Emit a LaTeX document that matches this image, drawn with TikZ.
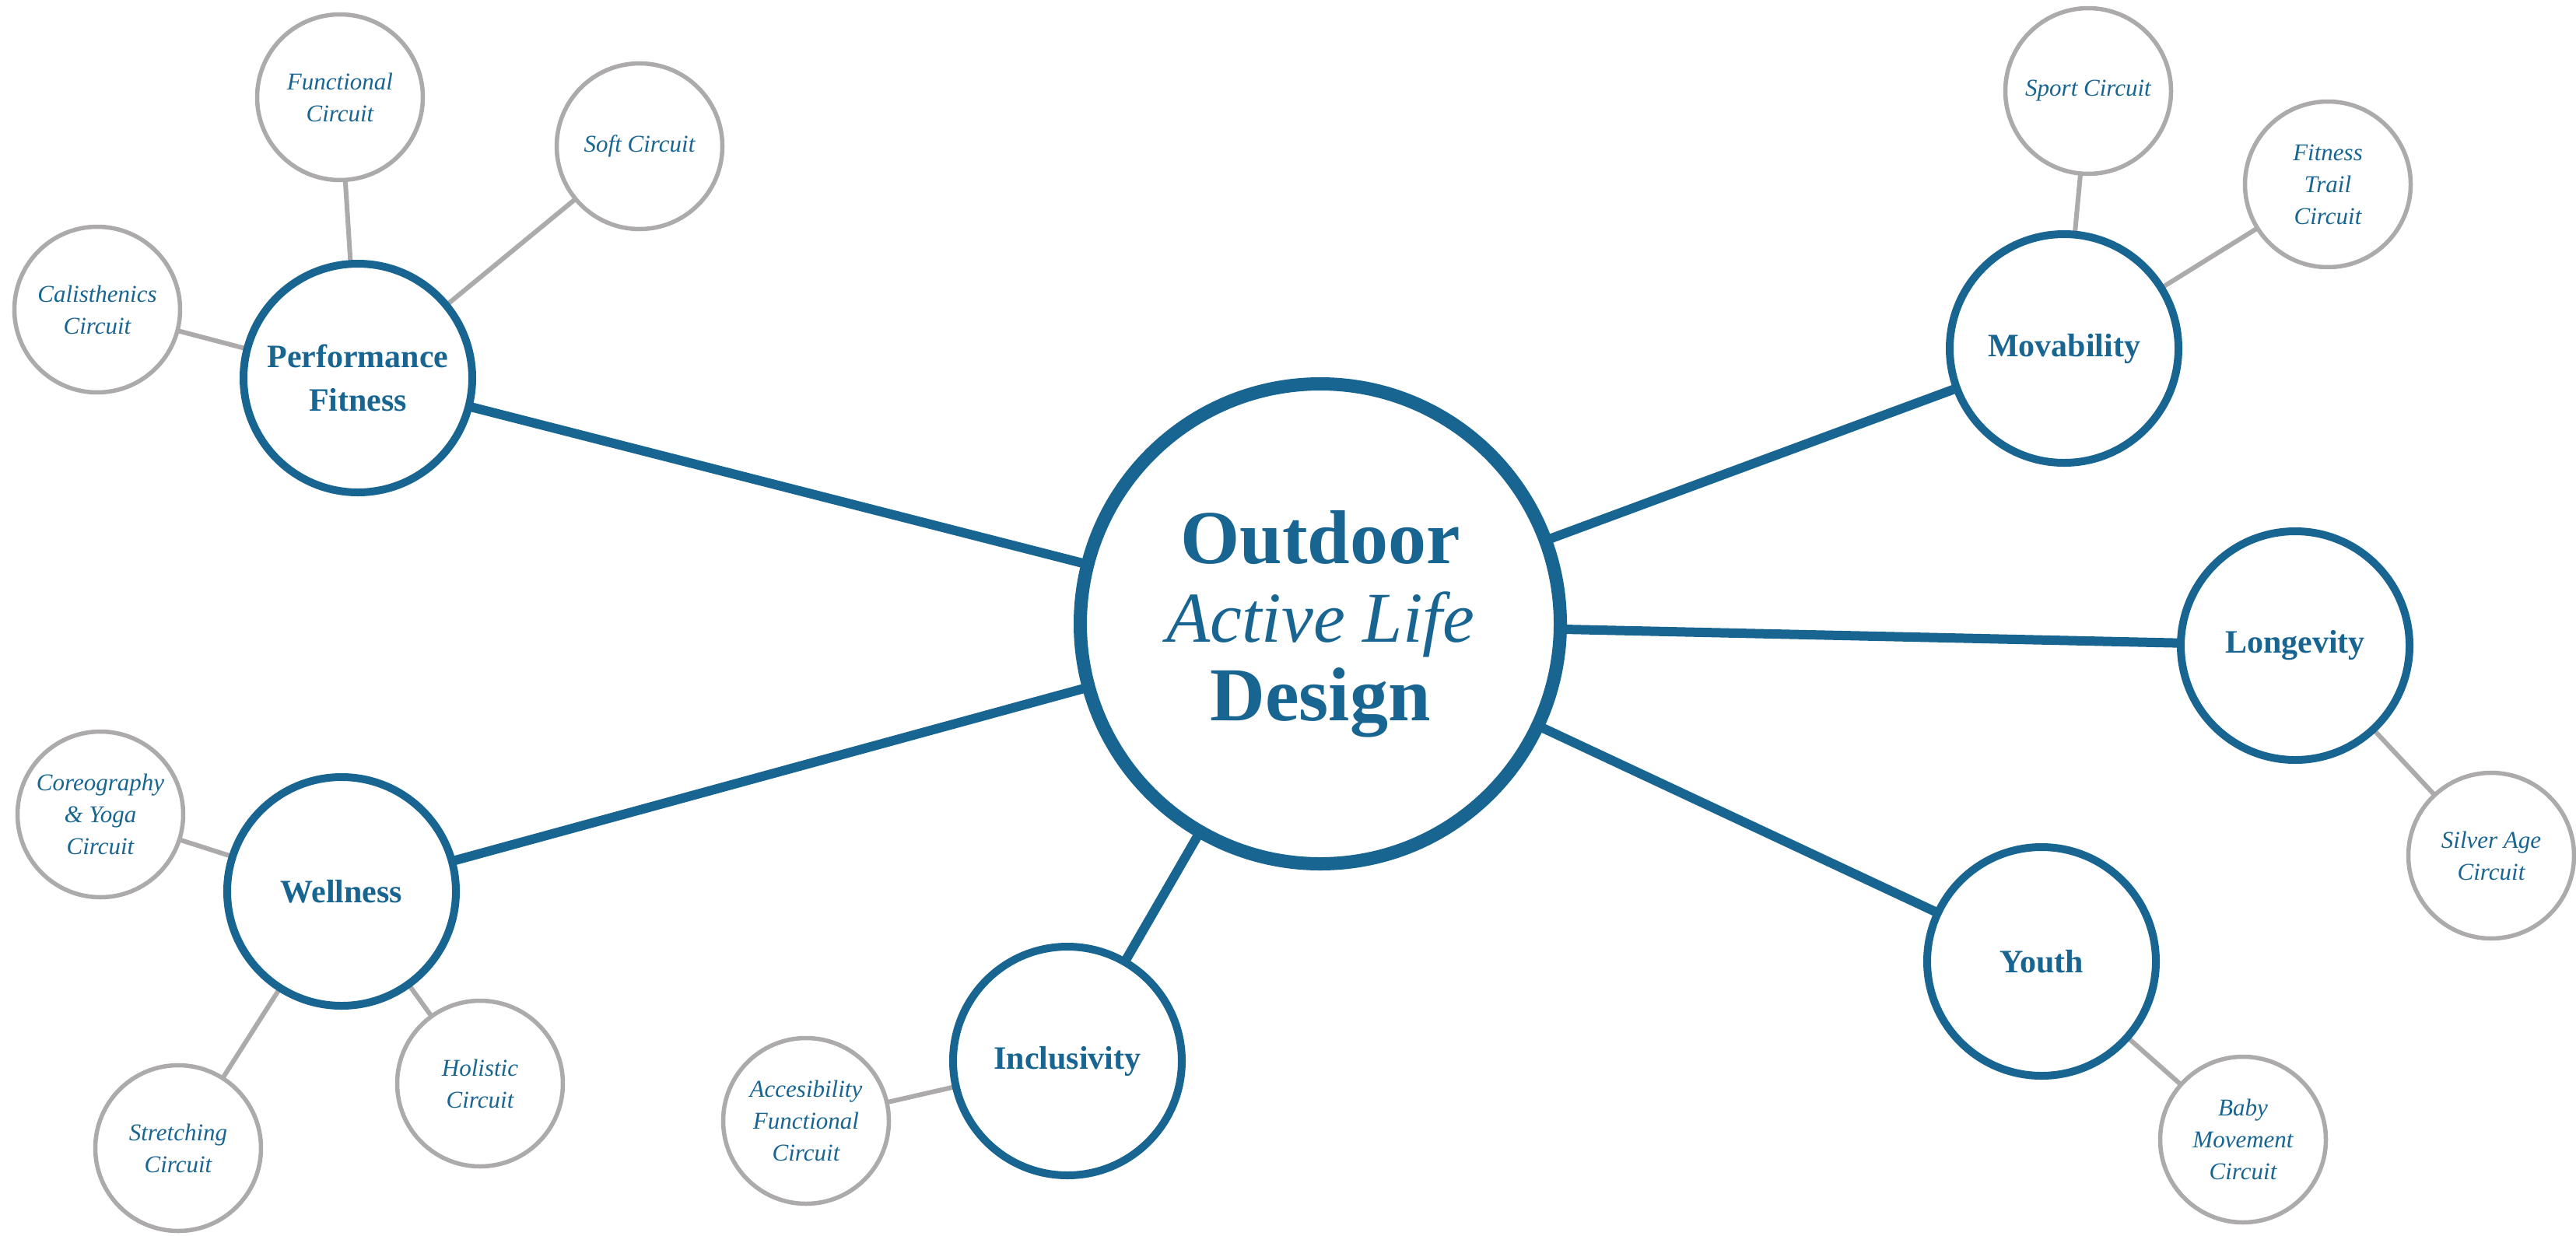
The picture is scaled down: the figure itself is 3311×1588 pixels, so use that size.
\documentclass[tikz,border=0pt]{standalone}
\usepackage{fontspec}
\setmainfont{Liberation Serif}
\usetikzlibrary{backgrounds}
\definecolor{mblue}{RGB}{24,101,146}
\definecolor{mgray}{RGB}{172,170,170}
\begin{document}
\begin{tikzpicture}[x=1pt,y=-1pt,
  hub/.style={circle, draw=mblue, line width=17pt, minimum size=617pt, inner sep=0pt, outer sep=0pt,
    text=mblue, align=center, font=\fontsize{98}{101}\selectfont},
  topic/.style={circle, draw=mblue, line width=10pt, minimum size=294pt, inner sep=0pt, outer sep=0pt,
    text=mblue, align=center, font=\fontsize{42}{56}\selectfont\bfseries},
  leaf/.style={circle, draw=mgray, line width=5.5pt, minimum size=213pt, inner sep=0pt, outer sep=0pt,
    text=mblue, align=center, font=\fontsize{31}{41}\selectfont\itshape},
  tlink/.style={draw=mblue, line width=12pt},
  llink/.style={draw=mgray, line width=6pt}]
\useasboundingbox (0,0) rectangle (3311,1588);

\node[hub] (hub) at (1697,802) {\bfseries Outdoor\\\fontsize{92}{101}\selectfont\itshape Active Life\\\bfseries Design};

\node[topic] (perf) at (460,486) {Performance\\Fitness};
\node[topic] (well) at (439,1146) {Wellness};
\node[topic] (incl) at (1372,1364) {Inclusivity};
\node[topic] (mov) at (2653,448) {Movability};
\node[topic] (long) at (2950,830) {Longevity};
\node[topic] (youth) at (2624,1236) {Youth};

\node[leaf] (func) at (437,125) {Functional\\Circuit};
\node[leaf] (soft) at (822,188) {Soft Circuit};
\node[leaf] (cali) at (125,398) {Calisthenics\\Circuit};
\node[leaf] (core) at (129,1047) {Coreography\\\& Yoga\\Circuit};
\node[leaf] (stre) at (229,1476) {Stretching\\Circuit};
\node[leaf] (holi) at (617,1393) {Holistic\\Circuit};
\node[leaf] (acce) at (1036,1441) {Accesibility\\Functional\\Circuit};
\node[leaf] (sport) at (2684,117) {Sport Circuit};
\node[leaf] (trail) at (2992,237) {Fitness\\Trail\\Circuit};
\node[leaf] (silver) at (3202,1100) {Silver Age\\Circuit};
\node[leaf] (baby) at (2883,1465) {Baby\\Movement\\Circuit};

\begin{pgfonlayer}{background}
\fill[white] (0,0) rectangle (3311,1588);
\draw[tlink] (hub) -- (perf);
\draw[tlink] (hub) -- (well);
\draw[tlink] (hub) -- (incl);
\draw[tlink] (hub) -- (mov);
\draw[tlink] (hub) -- (long);
\draw[tlink] (hub) -- (youth);
\draw[llink] (perf) -- (func);
\draw[llink] (perf) -- (soft);
\draw[llink] (perf) -- (cali);
\draw[llink] (well) -- (core);
\draw[llink] (well) -- (stre);
\draw[llink] (well) -- (holi);
\draw[llink] (incl) -- (acce);
\draw[llink] (mov) -- (sport);
\draw[llink] (mov) -- (trail);
\draw[llink] (long) -- (silver);
\draw[llink] (youth) -- (baby);
\end{pgfonlayer}
\end{tikzpicture}
\end{document}
